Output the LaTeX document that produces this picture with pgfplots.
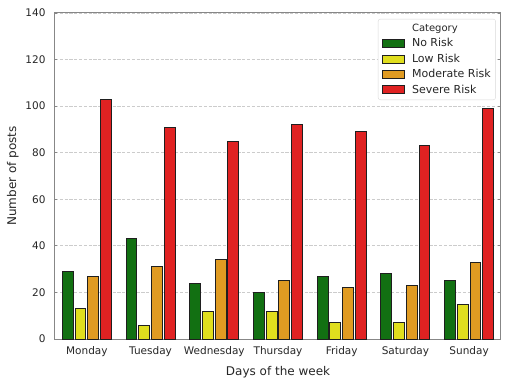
\documentclass[border=0pt]{standalone}
\usepackage{fontspec}
\setmainfont{DejaVu Sans}
\usepackage{pgfplots}
\pgfplotsset{compat=1.18}
\definecolor{cNo}{RGB}{18,112,18}
\definecolor{cLow}{RGB}{224,222,30}
\definecolor{cMod}{RGB}{224,155,34}
\definecolor{cSev}{RGB}{224,34,34}
\definecolor{txt}{RGB}{38,38,38}
\definecolor{frame}{RGB}{135,135,135}
\begin{document}
\begin{tikzpicture}
\begin{axis}[
  width=446pt, height=326pt, scale only axis,
  xmin=-0.5, xmax=6.5, ymin=0, ymax=140,
  xtick={0,1,2,3,4,5,6},
  xticklabels={Monday,Tuesday,Wednesday,Thursday,Friday,Saturday,Sunday},
  ytick={0,20,40,60,80,100,120,140},
  /pgf/number format/assume math mode=true,
  ticklabel style={font=\fontsize{10.5}{12}\selectfont, text=txt},
  label style={font=\fontsize{12}{13}\selectfont, text=txt},
  xlabel={Days of the week}, ylabel={Number of posts},
  xlabel style={yshift=-2.5pt},
  ylabel style={yshift=0pt},
  axis line style={frame, line width=1pt},
  xtick style={draw=none},
  ytick style={draw=frame, line width=0.8pt},
  tick align=inside, major tick length=2.5pt,
  xticklabel style={yshift=-4pt},
  yticklabel style={xshift=-6pt},
  ymajorgrids, grid style={dash pattern=on 3.2pt off 1.6pt, color=black!20, line width=0.8pt},
  legend style={at={(0.9885,0.982)}, anchor=north east, draw=black!15, rounded corners=2.5pt,
    fill=white, font=\fontsize{11}{12}\selectfont, text=txt, row sep=1.6pt, inner xsep=3pt, inner ysep=3pt},
  legend cell align=left,
  legend image code/.code={\draw[#1, line width=0.9pt, sharp corners] (0pt,-4pt) rectangle (22pt,4pt); \path[draw=none, fill=none] (-1pt,0pt) -- (28pt,0pt);},
  every axis plot/.append style={draw=black!88, line width=1pt},
]
\addlegendimage{empty legend}
\addlegendentry{\fontsize{10}{11}\selectfont Category}
\addplot[ybar, bar width=0.17, bar shift=-0.3, fill=cNo] coordinates {(0,29) (1,43) (2,24) (3,20) (4,27) (5,28) (6,25)};
\addlegendentry{No Risk}
\addplot[ybar, bar width=0.17, bar shift=-0.1, fill=cLow] coordinates {(0,13) (1,6) (2,12) (3,12) (4,7) (5,7) (6,15)};
\addlegendentry{Low Risk}
\addplot[ybar, bar width=0.17, bar shift=0.1, fill=cMod] coordinates {(0,27) (1,31) (2,34) (3,25) (4,22) (5,23) (6,33)};
\addlegendentry{Moderate Risk}
\addplot[ybar, bar width=0.17, bar shift=0.3, fill=cSev] coordinates {(0,103) (1,91) (2,85) (3,92) (4,89) (5,83) (6,99)};
\addlegendentry{Severe Risk}
\end{axis}
\pgfresetboundingbox
\path (current axis.south west) ++(-55pt,-44pt) rectangle ++(514pt,383pt);
\end{tikzpicture}
\end{document}
